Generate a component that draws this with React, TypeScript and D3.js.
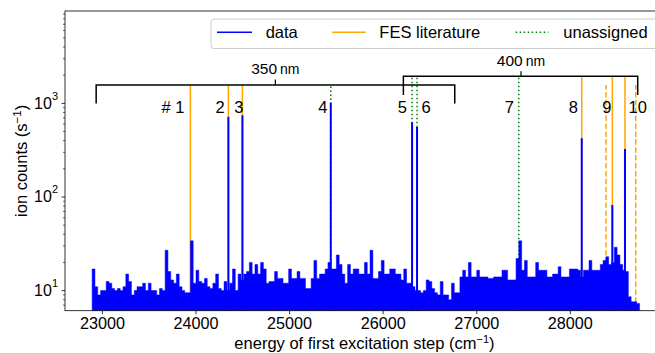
import * as d3 from 'd3';

// spectrum: counts on a regular energy grid (cm^-1)
const gridStart = 22890;
const gridStep = 30;
const counts = [
  17, 11, 9, 10, 10, 12.5, 12, 10.5, 10, 10.5,
  10, 11, 15, 12.5, 9, 10, 11, 11, 12, 10,
  12, 10, 10, 9, 10.5, 10, 27, 16, 13, 12,
  15, 11, 10, 9.5, 9.5, 34, 12, 16.5, 12.5, 12,
  13.5, 11, 10.5, 12, 15, 10.5, 10, 12.5, 10, 12,
  17, 10, 15, 13, 15, 16, 20, 15, 19, 15,
  20, 17, 12, 12.5, 12.5, 16, 13.5, 13.5, 12, 12,
  17, 13.5, 13.5, 16, 13.5, 13.5, 10.5, 10.5, 13.5, 21,
  13.5, 15, 15, 17, 20, 17, 17, 24, 19, 15,
  12, 19, 15, 17, 17, 15, 15, 20, 15, 27,
  13.5, 13.5, 16, 21, 15, 15, 17, 17, 15, 15,
  13, 17, 12, 12, 11, 10, 10, 9.5, 10, 13,
  12.5, 10.5, 9.5, 9, 12.5, 9, 9, 8, 12, 9.5,
  9.5, 14, 16.5, 14, 20, 14, 14, 16.5, 14, 14,
  14, 13.5, 13.5, 14, 14, 14, 16.5, 16.5, 13, 13,
  13, 22, 34, 16.5, 21, 14, 14, 14, 20, 16.5,
  16.5, 16.5, 14, 14, 15, 15, 18, 14, 14, 14,
  17, 17, 17, 16.5, 14, 16.5, 16.5, 21, 16.5, 16.5,
  16.5, 19, 21, 23, 19, 20, 29, 24, 19, 16.5,
  16, 8.6, 7.6, 7.6, 7.3,
];

// strong resonances
const peakEnergy = [24346, 24496, 25440, 26309, 26362, 28122, 28449, 28584];
const peakCounts = [719, 745, 1014, 627, 558, 423, 82, 325];

// FES literature lines
const litEnergy = [23940, 24346, 24496, 28122, 28449, 28584];
const litRange = [0, 0, 0, 1, 1, 1];
const litDashedEnergy = [28381, 28699];

// unassigned lines
const unassignedEnergy = [25440, 26309, 26362, 27449];
const unassignedRange = [0, 1, 1, 1];

// peak numbers
const labelText = ['# 1', '2', '3', '4', '5', '6', '7', '8', '9', '10'];
const labelEnergy = [23755, 24258, 24457, 25355, 26205, 26458, 27348, 28032, 28389, 28720];

// laser ranges
const rangeName = ['350', '400'];
const rangeLo = [22933, 26216];
const rangeHi = [26765, 28720];
const rangeMid = [24848, 27473];

const xTicks = [23000, 24000, 25000, 26000, 27000, 28000];
const yMajor = [1, 2, 3];

const FONT = 'Liberation Sans, Arial, Helvetica, sans-serif';
const BLUE = '#0000ff';
const ORANGE = '#ffa500';
const GREEN = '#008000';

export default function App() {
  const W = 655;
  const H = 353;
  const left = 65;
  const right = 663.9;
  const top = 11;
  const bottom = 310.7;

  const x = d3.scaleLinear().domain([22600, 29000]).range([left, right]);
  const y = d3.scaleLog().domain([6.1, 9700]).range([bottom, top]);

  const pts: [number, number][] = counts.map((c, i) => [gridStart + i * gridStep, c]);
  pts.push([gridStart + counts.length * gridStep, counts[counts.length - 1]]);

  const area = d3.area<[number, number]>()
    .x((d) => x(d[0]))
    .y0(bottom)
    .y1((d) => y(d[1]))
    .curve(d3.curveStepAfter);

  // bracket levels (counts) for the two laser ranges
  const bracketLevel = [1570, 1950];
  const bracketFoot = [995, 1230];
  const bracketTick = [1800, 2210];

  const minorTicks: number[] = [];
  for (let e = 0; e <= 3; e++) {
    for (let m = 2; m <= 9; m++) {
      const v = m * Math.pow(10, e);
      if (v >= 6.1 && v <= 9700) minorTicks.push(v);
    }
  }

  return (
    <svg width={W} height={H} style={{ position: 'absolute', left: 0, top: 0, background: '#fff' }}>
      <defs>
        <clipPath id="plot">
          <rect x={left} y={top} width={right - left} height={bottom - top} />
        </clipPath>
      </defs>

      <g clipPath="url(#plot)">
        {litEnergy.map((e, i) => (
          <line key={`lit${i}`} x1={x(e)} x2={x(e)} y1={y(bracketLevel[litRange[i]])} y2={bottom}
            stroke={ORANGE} strokeWidth={1.5} />
        ))}
        {litDashedEnergy.map((e, i) => (
          <line key={`litd${i}`} x1={x(e)} x2={x(e)} y1={bottom} y2={y(bracketLevel[0])}
            stroke={ORANGE} strokeWidth={1.5} strokeDasharray="5.5,2.4" />
        ))}
        {unassignedEnergy.map((e, i) => (
          <line key={`un${i}`} x1={x(e)} x2={x(e)} y1={y(bracketLevel[unassignedRange[i]]) + 1.5} y2={bottom}
            stroke={GREEN} strokeWidth={1.5} strokeDasharray="1.5,2.5" />
        ))}

        <path d={area(pts) ?? ''} fill={BLUE} stroke={BLUE} strokeWidth={0.5} />
        {peakEnergy.map((e, i) => (
          <line key={`pk${i}`} x1={x(e)} x2={x(e)} y1={bottom} y2={y(peakCounts[i])} stroke={BLUE} strokeWidth={2} />
        ))}
      </g>

      {/* laser range brackets */}
      {rangeName.map((n, i) => {
        const yl = y(bracketLevel[i]);
        const yf = y(bracketFoot[i]);
        const yt = y(bracketTick[i]);
        return (
          <g key={n}>
            <path d={`M${x(rangeLo[i])},${yf}V${yl}H${x(rangeHi[i])}V${yf}`} fill="none" stroke="#000" strokeWidth={1.5} />
            <line x1={x(rangeMid[i])} x2={x(rangeMid[i])} y1={yl} y2={yt} stroke="#000" strokeWidth={1.2} />
            <text x={x(rangeMid[i])} y={yt - 5} textAnchor="middle" fontFamily={FONT} fill="#000">
              <tspan fontSize={15.5}>{n}</tspan>
              <tspan fontSize={14} dx={3}>nm</tspan>
            </text>
          </g>
        );
      })}

      {labelText.map((t, i) => (
        <text key={t} x={x(labelEnergy[i])} y={113} textAnchor="middle" fontFamily={FONT} fontSize={16.5} fill="#000">
          {t}
        </text>
      ))}

      {/* axes */}
      <rect x={left} y={top} width={right - left} height={bottom - top} fill="none" stroke="#000" strokeWidth={0.8} />
      {xTicks.map((t) => (
        <g key={t}>
          <line x1={x(t)} x2={x(t)} y1={bottom} y2={bottom + 3.5} stroke="#000" strokeWidth={0.8} />
          <text x={x(t)} y={bottom + 18} textAnchor="middle" fontFamily={FONT} fontSize={16.2} fill="#000">{t}</text>
        </g>
      ))}
      {minorTicks.map((t) => (
        <line key={`m${t}`} x1={left - 2} x2={left} y1={y(t)} y2={y(t)} stroke="#000" strokeWidth={0.6} />
      ))}
      {yMajor.map((e) => (
        <g key={e}>
          <line x1={left - 3.5} x2={left} y1={y(Math.pow(10, e))} y2={y(Math.pow(10, e))} stroke="#000" strokeWidth={0.8} />
          <text x={left - 7} y={y(Math.pow(10, e)) + 5.5} textAnchor="end" fontFamily={FONT} fontSize={16} fill="#000">
            10<tspan fontSize={11} dy={-9}>{e}</tspan>
          </text>
        </g>
      ))}

      <text x={(left + right) / 2} y={348.5} textAnchor="middle" fontFamily={FONT} fontSize={16.5} fill="#000">
        energy of first excitation step (cm<tspan fontSize={11} dy={-6}>−1</tspan><tspan dy={6}>)</tspan>
      </text>
      <text transform={`translate(27,${(top + bottom) / 2}) rotate(-90)`} textAnchor="middle" fontFamily={FONT} fontSize={16.5} fill="#000">
        ion counts (s<tspan fontSize={11.5} dy={-6.5}>−1</tspan><tspan dy={6.5}>)</tspan>
      </text>

      {/* legend */}
      <g fontFamily={FONT} fontSize={16.5} fill="#000">
        <rect x={211} y={19} width={460} height={29.5} rx={3} fill="#fff" fillOpacity={0.8} stroke="#cccccc" strokeWidth={1} />
        <line x1={217} x2={252} y1={32.3} y2={32.3} stroke={BLUE} strokeWidth={1.5} />
        <text x={265.7} y={38.2}>data</text>
        <line x1={332.3} x2={365.7} y1={32.3} y2={32.3} stroke={ORANGE} strokeWidth={1.5} />
        <text x={379.3} y={38.2}>FES literature</text>
        <line x1={515.7} x2={548.3} y1={32.3} y2={32.3} stroke={GREEN} strokeWidth={1.5} strokeDasharray="1.5,2.5" />
        <text x={563.3} y={38.2}>unassigned</text>
      </g>
    </svg>
  );
}
